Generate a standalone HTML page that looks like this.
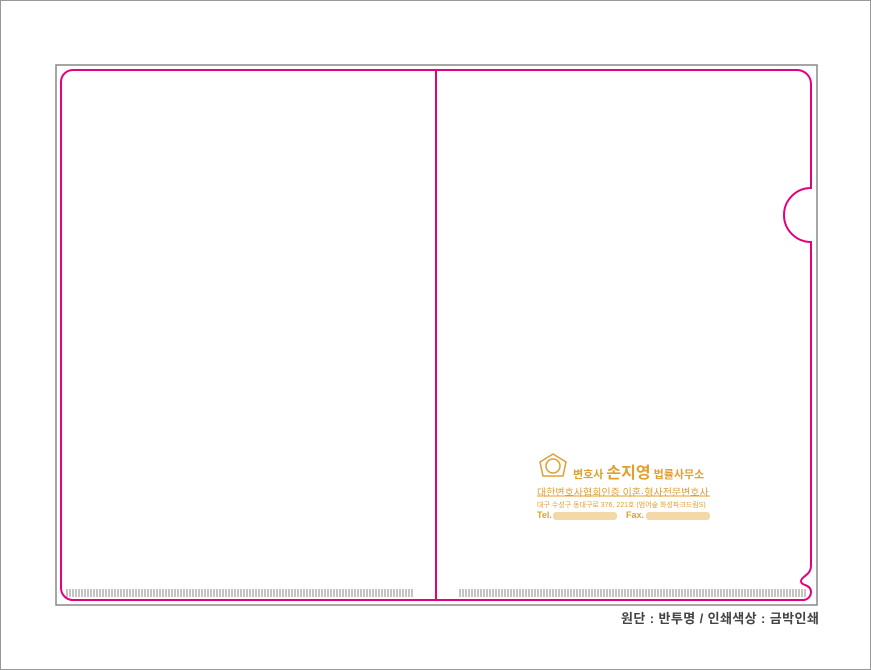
<!DOCTYPE html>
<html><head><meta charset="utf-8"><style>
body{margin:0;width:871px;height:670px;position:relative;background:#fff;overflow:hidden;font-family:"Liberation Sans","Noto Sans CJK KR",sans-serif}
.t{position:absolute;white-space:nowrap;color:#e0a030}
</style></head><body>
<svg width="871" height="670" style="position:absolute;left:0;top:0">
<defs>
<pattern id="bc" x="66" y="0" width="12" height="10" patternUnits="userSpaceOnUse">
<rect x="0" y="0" width="2" height="10" fill="#c4c4c4"/><rect x="3" y="0" width="2" height="10" fill="#c4c4c4"/><rect x="6" y="0" width="2" height="10" fill="#c4c4c4"/><rect x="9" y="0" width="2" height="10" fill="#c4c4c4"/>
</pattern>
</defs>
<rect x="0.5" y="0.5" width="870" height="669" fill="#fff" stroke="#999"/>
<rect x="56" y="65" width="761" height="540" fill="#fff" stroke="#888" stroke-width="1.5"/>
<rect x="66" y="589" width="348" height="8" fill="url(#bc)"/>
<rect x="458" y="589" width="348" height="8" fill="url(#bc)"/>
<path d="M73,70 H797 A14,14 0 0 1 811,84 V188 A27,27 0 0 0 811,242 V566 Q811,572 805,576 Q797,582 805,585 Q811,587 811,592 A8,8 0 0 1 803,600 H73 A12,12 0 0 1 61,588 V82 A12,12 0 0 1 73,70 Z" fill="none" stroke="#e4007f" stroke-width="2"/>
<line x1="436" y1="70" x2="436" y2="600" stroke="#e4007f" stroke-width="2"/>
<g fill="none" stroke="#e0a030" stroke-width="1.5">
<path d="M553,454 L566,462 L563,476 L543,476 L540,462 Z"/>
<circle cx="553" cy="466" r="7"/>
</g>
<line x1="537" y1="496" x2="710" y2="496" stroke="#e0a030" stroke-width="1"/>
<rect x="553" y="512" width="64" height="8" fill="#f3d9a8" rx="3"/>
<rect x="646" y="512" width="64" height="8" fill="#f3d9a8" rx="3"/>
</svg>
<div class="t" style="left:573px;top:459px;font-size:11px;font-weight:bold">변호사 <span style="font-size:16px">손지영</span> 법률사무소</div>
<div class="t" style="left:537px;top:484px;font-size:10px">대한변호사협회인증 이혼·형사전문변호사</div>
<div class="t" style="left:537px;top:500px;font-size:7px">대구 수성구 동대구로 376, 221호 (범어숲 화성파크드림S)</div>
<div class="t" style="left:537px;top:510px;font-size:9px;font-weight:bold">Tel.</div>
<div class="t" style="left:626px;top:510px;font-size:9px;font-weight:bold">Fax.</div>
<div style="position:absolute;left:621px;top:608px;font-size:13px;font-weight:bold;color:#444;white-space:nowrap;letter-spacing:0.4px">원단 : 반투명 / 인쇄색상 : 금박인쇄</div>
</body></html>
